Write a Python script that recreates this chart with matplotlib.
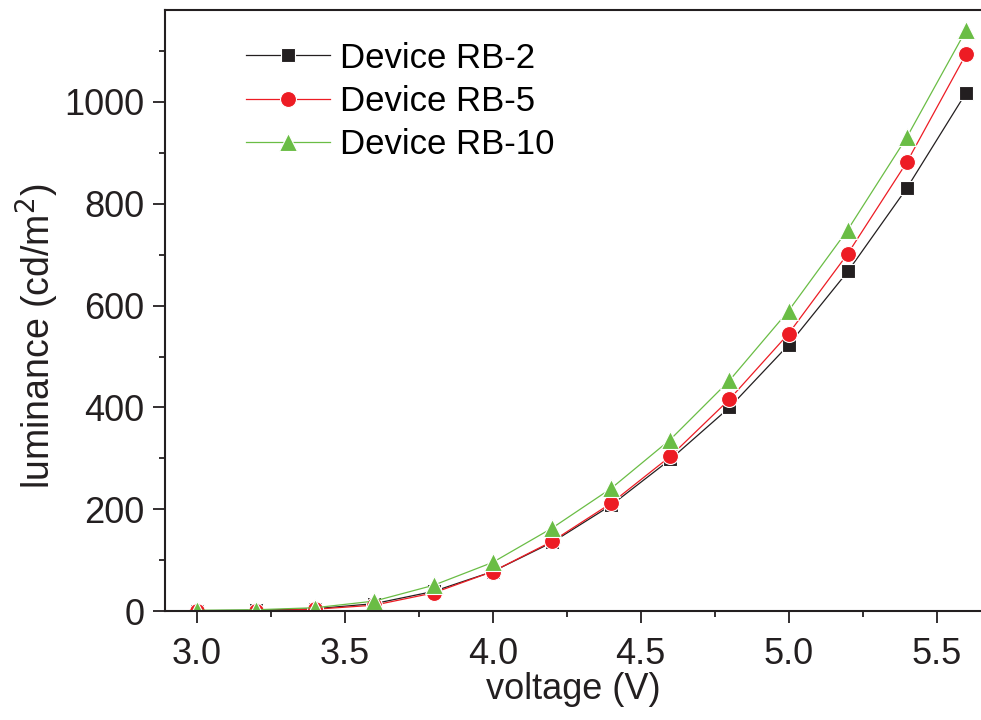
import matplotlib.pyplot as plt
import numpy as np
from matplotlib.ticker import MultipleLocator

plt.rcParams['font.family'] = ['Liberation Sans', 'DejaVu Sans']

voltage = [3.0, 3.2, 3.4, 3.6, 3.8, 4.0, 4.2, 4.4, 4.6, 4.8, 5.0, 5.2, 5.4, 5.6]
rb2 = [1, 2, 5, 15, 39, 78, 135, 208, 298, 400, 523, 667, 831, 1018]
rb5 = [1, 1, 4, 12, 36, 78, 137, 212, 304, 416, 545, 702, 882, 1094]
rb10 = [2, 3, 7, 20, 51, 96, 163, 241, 337, 453, 590, 749, 931, 1141]

fig = plt.figure(figsize=(9.81, 7.2), dpi=100)
ax = fig.add_axes([0.168, 0.151, 0.832, 0.835])

ax.plot(voltage, rb2, '-', color='#231f20', lw=0.9, marker='s', ms=10.5,
        mfc='#231f20', mec='white', mew=0.8, label='Device RB-2')
ax.plot(voltage, rb5, '-', color='#ed1c24', lw=0.9, marker='o', ms=11.5,
        mfc='#ed1c24', mec='white', mew=0.8, label='Device RB-5')
ax.plot(voltage, rb10, '-', color='#6abd45', lw=0.9, marker='^', ms=12.5,
        mfc='#6abd45', mec='white', mew=0.8, label='Device RB-10')

ax.set_xlim(2.892, 5.65)
ax.set_ylim(0, 1180)
ax.xaxis.set_major_locator(MultipleLocator(0.5))
ax.xaxis.set_minor_locator(MultipleLocator(0.25))
ax.yaxis.set_major_locator(MultipleLocator(200))
ax.yaxis.set_minor_locator(MultipleLocator(100))
ax.xaxis.set_major_formatter(plt.FormatStrFormatter('%.1f'))

ax.spines['right'].set_visible(False)
for s in ['left', 'bottom', 'top']:
    ax.spines[s].set_linewidth(1.5)
    ax.spines[s].set_color('#231f20')
ax.tick_params(which='major', direction='out', length=8.5, width=1.3,
               labelsize=26, colors='#231f20')
ax.tick_params(axis='x', which='major', pad=10)
ax.tick_params(axis='y', which='major', pad=6)
ax.tick_params(which='minor', direction='out', length=4.5, width=1.3,
               colors='#231f20')

ax.set_xlabel('voltage (V)', fontsize=26, color='#231f20', labelpad=0)
ax.set_ylabel('luminance (cd/m$^2$)', fontsize=27, color='#231f20')
ax.yaxis.set_label_coords(-0.127, 0.457)

ax.legend(loc='upper left', bbox_to_anchor=(0.07, 0.988), frameon=False,
          fontsize=25, handlelength=2.4, handletextpad=0.3,
          labelspacing=0.3, borderaxespad=0.3)

fig.savefig('out.png', dpi=100)
